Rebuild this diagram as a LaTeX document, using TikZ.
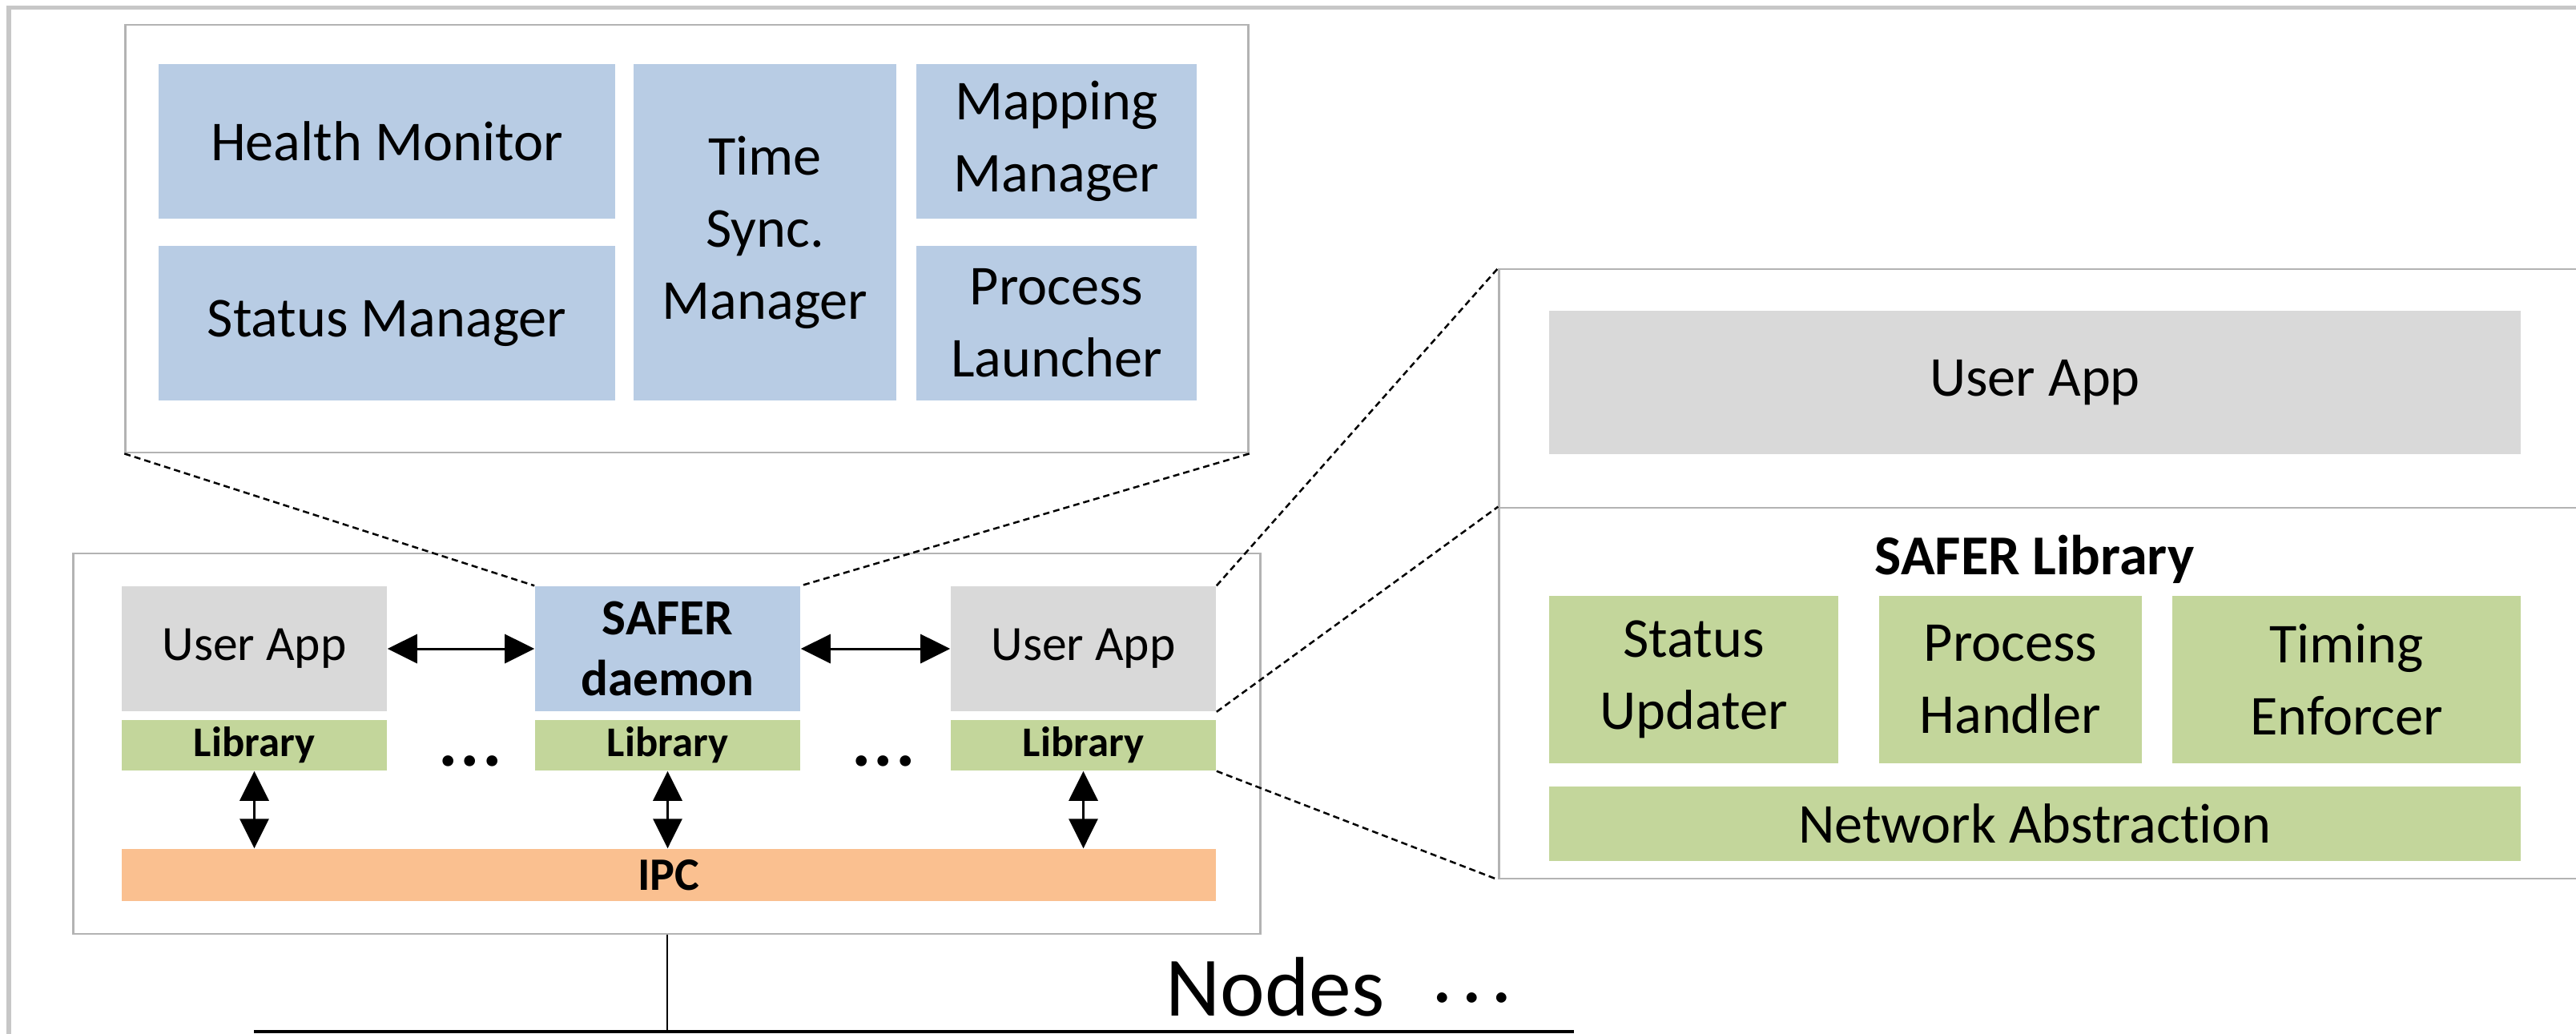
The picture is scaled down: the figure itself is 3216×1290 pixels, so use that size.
\documentclass[tikz,border=0pt]{standalone}
\usepackage{fontspec}
\setmainfont{Carlito}[Ligatures=NoCommon]
\usetikzlibrary{arrows.meta}
\definecolor{safeBlue}{HTML}{B8CCE4}
\definecolor{appGray}{HTML}{D9D9D9}
\definecolor{libGreen}{HTML}{C3D69B}
\definecolor{ipcOrange}{HTML}{FAC090}
\definecolor{frameGray}{HTML}{B3B3B3}

\begin{document}
\begin{tikzpicture}[x=0.01cm, y=-0.01cm,
					frame/.style={draw=frameGray, line width=0.025cm, fill=white, rectangle, inner sep=0pt},
					box/.style={rectangle, inner sep=0pt, align=center, font=\fontsize{20}{25.6}\selectfont},
					midbox/.style={box, minimum width=3.31cm, font=\fontsize{17.5}{21}\selectfont},
					libbox/.style={box, fill=libGreen, minimum width=3.31cm, minimum height=0.63cm, font=\bfseries\fontsize{15}{18}\selectfont},
					zoomline/.style={draw=black, line width=0.025cm, dash pattern=on 0.08cm off 0.05cm},
					arrow/.style={{Triangle[length=0.37cm,width=0.36cm]}-{Triangle[length=0.37cm,width=0.36cm]}, line width=0.03cm}]
	\useasboundingbox (0,0) rectangle (3216,1290);
	\clip (0,0) rectangle (3216,1290);
	\draw[draw=black!22, line width=0.05cm] (11,9) rectangle (3400,1500);

	% daemon internals
	\node[frame, minimum width=14.01cm, minimum height=5.34cm] (daemonzoom) at (857.5,298) {};
	\node[box, fill=safeBlue, minimum width=5.7cm, minimum height=1.93cm] (health) at (483,176.5) {Health Monitor};
	\node[box, fill=safeBlue, minimum width=5.7cm, minimum height=1.93cm] (status) at (483,403.5) {Status Manager};
	\node[box, fill=safeBlue, minimum width=3.28cm, minimum height=4.2cm] (timesync) at (955,290) {Time\\Sync.\\Manager};
	\node[box, fill=safeBlue, minimum width=3.5cm, minimum height=1.93cm] (mapping) at (1319,176.5) {Mapping\\Manager};
	\node[box, fill=safeBlue, minimum width=3.5cm, minimum height=1.93cm] (launcher) at (1319,403.5) {Process\\Launcher};

	% one node
	\node[frame, minimum width=14.81cm, minimum height=4.75cm] (host) at (832.5,928.5) {};
	\node[midbox, fill=appGray, minimum height=1.56cm] (appA) at (317.5,810) {User App};
	\node[midbox, fill=safeBlue, minimum height=1.56cm, font=\bfseries\fontsize{18}{21.6}\selectfont] (daemon) at (833.5,810) {SAFER\\daemon};
	\node[midbox, fill=appGray, minimum height=1.56cm] (appB) at (1352.5,810) {User App};
	\node[libbox] (libA) at (317.5,930.5) {Library};
	\node[libbox] (libD) at (833.5,930.5) {Library};
	\node[libbox] (libB) at (1352.5,930.5) {Library};
	\node[inner sep=0pt, font=\bfseries\fontsize{26}{30}\selectfont] (dotsA) at (587,950) {.\kern0.03cm.\kern0.03cm.};
	\node[inner sep=0pt, font=\bfseries\fontsize{26}{30}\selectfont] (dotsB) at (1103,950) {.\kern0.03cm.\kern0.03cm.};
	\node[box, fill=ipcOrange, minimum width=13.66cm, minimum height=0.65cm, font=\bfseries\fontsize{16.5}{20}\selectfont] (ipc) at (835,1092.5) {IPC};
	\draw[arrow] (appA.east) -- (daemon.west);
	\draw[arrow] (daemon.east) -- (appB.west);
	\draw[arrow] (libA.south) -- (libA.south |- ipc.north);
	\draw[arrow] (libD.south) -- (libD.south |- ipc.north);
	\draw[arrow] (libB.south) -- (libB.south |- ipc.north);

	% app internals
	\node[frame, minimum width=14.28cm, minimum height=2.98cm] (appzoom) at (2586,485) {};
	\node[frame, minimum width=14.28cm, minimum height=4.63cm] (libzoom) at (2586,865.5) {};
	\node[box, fill=appGray, minimum width=12.13cm, minimum height=1.79cm] (userapp) at (2540.5,477.5) {User App};
	\node[box, anchor=base, font=\bfseries\fontsize{20}{24}\selectfont] (saferlib) at (2540,717) {SAFER Library};
	\node[box, fill=libGreen, minimum width=3.61cm, minimum height=2.09cm] (updater) at (2114.5,848.5) {Status\\Updater};
	\node[box, fill=libGreen, minimum width=3.28cm, minimum height=2.09cm] (handler) at (2510,848.5) {Process\\Handler};
	\node[box, fill=libGreen, minimum width=4.35cm, minimum height=2.09cm] (enforcer) at (2929.5,848.5) {Timing\\Enforcer};
	\node[box, fill=libGreen, minimum width=12.13cm, minimum height=0.93cm] (netabs) at (2540.5,1028.5) {Network Abstraction};

	% zoom lines
	\draw[zoomline] (daemonzoom.south west) -- (daemon.north west);
	\draw[zoomline] (daemonzoom.south east) -- (daemon.north east);
	\draw[zoomline] (appB.north east) -- (appzoom.north west);
	\draw[zoomline] (appB.south east) -- (libzoom.north west);
	\draw[zoomline] (libB.south east) -- (libzoom.south west);

	% network
	\coordinate (busL) at (317,1288);
	\coordinate (busR) at (1965,1288);
	\draw[line width=0.035cm] (busL) -- (busR);
	\draw[line width=0.02cm] (host.south) -- (host.south |- busL);
	\node[anchor=base west, inner sep=0pt, font=\fontsize{30}{36}\selectfont] (nodeslabel) at (1455,1268) {Nodes};
	\node[inner sep=0pt, font=\fontsize{30}{36}\selectfont] (nodesdots) at (1838,1246) {.\kern0.105cm.\kern0.105cm.};
\end{tikzpicture}
\end{document}
